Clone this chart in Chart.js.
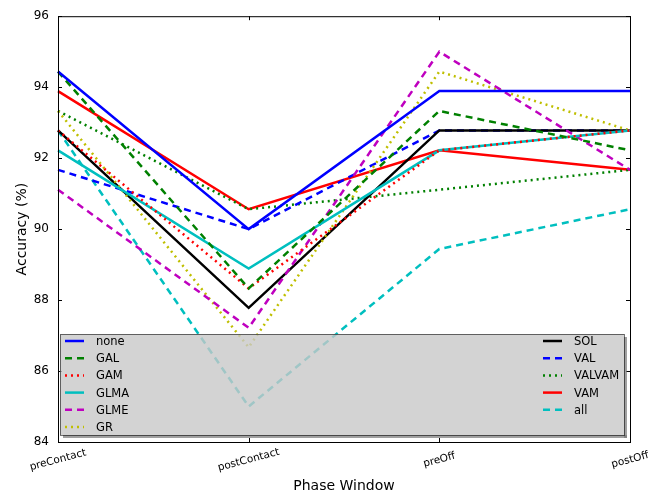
<!DOCTYPE html>
<html>
<head>
<meta charset="utf-8">
<script src="https://cdn.jsdelivr.net/npm/chart.js@4.4.0/dist/chart.umd.min.js"></script>
<style>
  body { margin: 0; background: #fff; }
</style>
</head>
<body>
<canvas id="main-chart" width="663" height="500"></canvas>
<script>
// categories + values
let phases = ['preContact', 'postContact', 'preOff', 'postOff']
let yTicks = [84, 86, 88, 90, 92, 94, 96]

let none   = [94.44, 90.00, 93.89, 93.89]
let GAL    = [94.44, 88.33, 93.33, 92.22]
let GAM    = [92.78, 88.33, 92.22, 92.78]
let GLMA   = [92.22, 88.89, 92.22, 92.78]
let GLME   = [91.11, 87.22, 95.00, 91.67]
let GR     = [93.33, 86.67, 94.44, 92.78]
let SOL    = [92.78, 87.78, 92.78, 92.78]
let VAL    = [91.67, 90.00, 92.78, 92.78]
let VALVAM = [93.33, 90.56, 91.11, 91.67]
let VAM    = [93.89, 90.56, 92.22, 91.67]
let all    = [92.78, 85.00, 89.44, 90.56]

let seriesNames = ['none', 'GAL', 'GAM', 'GLMA', 'GLME', 'GR', 'SOL', 'VAL', 'VALVAM', 'VAM', 'all']
let seriesData = [none, GAL, GAM, GLMA, GLME, GR, SOL, VAL, VALVAM, VAM, all]

// old matplotlib colour letters
let colorOf = { b: '#0000ff', g: '#008000', r: '#ff0000', c: '#00bfbf', m: '#bf00bf', y: '#bfbf00', k: '#000000' }
let styles = ['b-', 'g--', 'r:', 'c-', 'm--', 'y:', 'k-', 'b--', 'g:', 'r-', 'c--']

let FONT = 'DejaVu Sans'

function dashFor(style) {
  if (style.indexOf('--') >= 0) return [7, 5]
  if (style.indexOf(':') >= 0) return [2, 4]
  return []
}

let datasets = seriesNames.map(function(name, i) {
  return {
    label: name,
    data: seriesData[i],
    borderColor: colorOf[styles[i][0]],
    borderDash: dashFor(styles[i]),
    borderWidth: 2.5,
    pointRadius: 0,
    fill: false,
    tension: 0
  }
})

// frame, inward ticks, x labels and the boxed legend
let decorations = {
  id: 'decorations',
  afterDatasetsDraw(chart) {
    let ctx = chart.ctx
    let area = chart.chartArea
    let xs = chart.scales.x
    let ys = chart.scales.y

    ctx.save()
    ctx.strokeStyle = '#000'
    ctx.lineWidth = 1
    ctx.setLineDash([])
    ctx.strokeRect(area.left + 0.5, area.top + 0.5, area.right - area.left, area.bottom - area.top)

    ctx.beginPath()
    yTicks.forEach(function(v) {
      let y = Math.round(ys.getPixelForValue(v)) + 0.5
      ctx.moveTo(area.left, y); ctx.lineTo(area.left + 4, y)
      ctx.moveTo(area.right, y); ctx.lineTo(area.right - 4, y)
    })
    phases.forEach(function(p, i) {
      let x = Math.round(xs.getPixelForValue(i)) + 0.5
      ctx.moveTo(x, area.bottom); ctx.lineTo(x, area.bottom - 4)
      ctx.moveTo(x, area.top); ctx.lineTo(x, area.top + 4)
    })
    ctx.stroke()

    // legend box
    let bx = 60, by = 334, bw = 564, bh = 101
    ctx.fillStyle = 'rgba(120,120,120,0.7)'
    ctx.fillRect(bx + bw, by + 3, 3, bh)
    ctx.fillRect(bx + 3, by + bh, bw, 3)
    ctx.fillStyle = 'rgba(200,200,200,0.8)'
    ctx.fillRect(bx, by, bw, bh)
    ctx.strokeStyle = 'rgba(0,0,0,0.55)'
    ctx.strokeRect(bx + 0.5, by + 0.5, bw, bh)

    ctx.font = '11.5px "' + FONT + '"'
    ctx.textBaseline = 'middle'
    ctx.textAlign = 'left'
    ctx.lineWidth = 2.5
    datasets.forEach(function(ds, i) {
      let col = i < 6 ? 0 : 1
      let row = i < 6 ? i : i - 6
      let y = 341 + row * 17.2
      let lx = col == 0 ? 65 : 543
      ctx.strokeStyle = ds.borderColor
      ctx.setLineDash(ds.borderDash)
      ctx.beginPath()
      ctx.moveTo(lx, y); ctx.lineTo(lx + 19, y)
      ctx.stroke()
      ctx.fillStyle = '#000'
      ctx.fillText(ds.label, lx + 31, y + 1)
    })
    ctx.setLineDash([])

    // rotated category labels, centred under each tick
    ctx.font = '10.5px "' + FONT + '"'
    ctx.textAlign = 'center'
    phases.forEach(function(p, i) {
      let x = xs.getPixelForValue(i)
      ctx.save()
      ctx.translate(x, area.bottom + 18)
      ctx.rotate(-15 * Math.PI / 180)
      ctx.fillText(p, 0, 0)
      ctx.restore()
    })

    ctx.font = '14px "' + FONT + '"'
    ctx.fillText('Phase Window', (area.left + area.right) / 2, 486)
    ctx.restore()
  }
}

let repChart = new Chart(document.getElementById('main-chart'), {
  type: 'line',
  data: { labels: phases, datasets: datasets },
  options: {
    responsive: false,
    animation: false,
    devicePixelRatio: 1,
    layout: { padding: { top: 10, right: 33, left: 0, bottom: 0 } },
    plugins: { legend: { display: false }, tooltip: { enabled: false } },
    scales: {
      x: {
        offset: false,
        grid: { display: false },
        border: { display: false },
        ticks: { display: false },
        afterFit: function(s) { s.height = 58 }
      },
      y: {
        min: 84,
        max: 96,
        grid: { display: false, drawTicks: false },
        border: { display: false },
        ticks: {
          stepSize: 2,
          padding: 9,
          color: '#000',
          font: { family: FONT, size: 12 }
        },
        title: {
          display: true,
          text: 'Accuracy (%)',
          color: '#000',
          font: { family: FONT, size: 14 },
          padding: { top: 13.5, bottom: 0 }
        },
        afterFit: function(s) { s.width = 58 }
      }
    }
  },
  plugins: [decorations]
})
</script>
</body>
</html>
